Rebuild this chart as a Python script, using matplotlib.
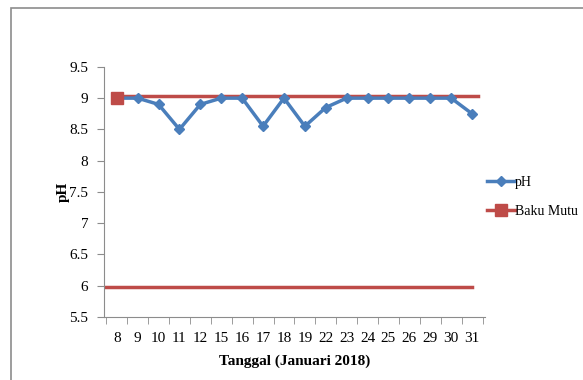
import numpy as np
import matplotlib.pyplot as plt
from matplotlib.patches import Rectangle

# data
tanggal = ['8', '9', '10', '11', '12', '15', '16', '17', '18', '19',
           '22', '23', '24', '25', '26', '29', '30', '31']
ph = [9.0, 9.0, 8.9, 8.5, 8.9, 9.0, 9.0, 8.55, 9.0, 8.55,
      8.85, 9.0, 9.0, 9.0, 9.0, 9.0, 9.0, 8.75]
baku_atas = 9.03
baku_bawah = 5.98
y_ticks = [5.5, 6, 6.5, 7, 7.5, 8, 8.5, 9, 9.5]
y_labels = ['5.5', '6', '6.5', '7', '7.5', '8', '8.5', '9', '9.5']

blue = '#4A7EBB'
red = '#BE4B48'

plt.rcParams['font.family'] = ['Liberation Serif', 'DejaVu Serif']

fig = plt.figure(figsize=(5.83, 3.80), dpi=100)
ax = fig.add_axes([0.178, 0.166, 0.654, 0.658])

# chart border
fig.patches.append(Rectangle((11 / 583, -0.05), 1.1, 1 - 8 / 380 + 0.05,
                             transform=fig.transFigure, fill=False,
                             edgecolor='#8c8c8c', linewidth=1.2))

x = np.arange(len(tanggal))
ax.plot(x, ph, color=blue, linewidth=2.5, marker='D', markersize=5,
        label='pH', zorder=3)
ax.plot([x[0], x[-1] + 0.3], [baku_atas, baku_atas], color=red,
        linewidth=2.5, zorder=2)
ax.plot([x[0]], [baku_atas - 0.03], color=red, marker='s', markersize=9,
        linestyle='none', zorder=4)
ax.plot([-0.6, x[-1]], [baku_bawah, baku_bawah], color=red, linewidth=2.5,
        zorder=2)
# legend proxy
ax.plot([], [], color=red, linewidth=2.5, marker='s', markersize=8,
        label='Baku Mutu')

ax.set_xlim(-0.62, len(tanggal) - 0.38)
ax.set_ylim(5.5, 9.5)
ax.set_yticks(y_ticks)
ax.set_yticklabels(y_labels, fontsize=11)
ax.set_xticks(x)
ax.set_xticklabels(tanggal, fontsize=11)
ax.set_xticks(np.arange(len(tanggal) + 1) - 0.5, minor=True)
ax.tick_params(axis='x', which='major', length=0, pad=11)
ax.tick_params(axis='x', which='minor', length=5, color='#8c8c8c')
ax.tick_params(axis='y', length=5, color='#8c8c8c', pad=6)

for s in ['top', 'right']:
    ax.spines[s].set_visible(False)
for s in ['left', 'bottom']:
    ax.spines[s].set_color('#8c8c8c')

ax.set_xlabel('Tanggal (Januari 2018)', fontsize=11, fontweight='bold',
              labelpad=7)
ax.set_ylabel('pH', fontsize=11, fontweight='bold')
ax.yaxis.set_label_coords(-0.09, 0.5)

ax.legend(loc='center left', bbox_to_anchor=(0.99, 0.48), frameon=False,
          fontsize=10, handlelength=2.0, handletextpad=0.0, labelspacing=1.1,
          borderaxespad=0)

fig.savefig('out.png', dpi=100)
